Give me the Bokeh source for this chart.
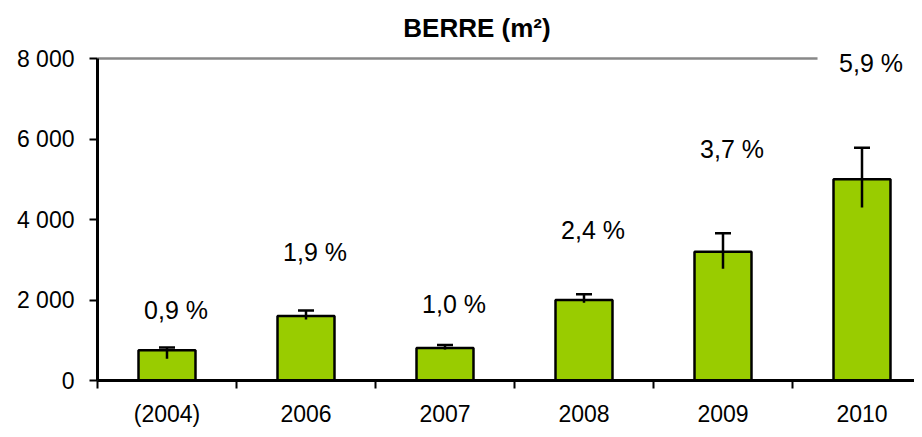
from bokeh.plotting import figure
from bokeh.models import (ColumnDataSource, Range1d, FixedTicker, Whisker, TeeHead,
                          LabelSet, Label)
from bokeh.core.properties import value
from bokeh.embed import file_html
from bokeh.resources import INLINE

categories = ["(2004)", "2006", "2007", "2008", "2009", "2010"]
surface = [750, 1600, 810, 2000, 3200, 5000]
err_high = [820, 1740, 885, 2140, 3660, 5780]
err_low = [540, 1515, 770, 1930, 2775, 4300]
pct_labels = ["0,9 %", "1,9 %", "1,0 %", "2,4 %", "3,7 %", "5,9 %"]
label_y = [1740, 3200, 1890, 3730, 5740, 7900]
y_ticks = [0, 2000, 4000, 6000, 8000]
y_tick_labels = ["0", "2 000", "4 000", "6 000", "8 000"]
title_text = "BERRE (m²)"

FONT = "Liberation Sans"
n = len(categories)
xs = [i + 0.5 for i in range(n)]
y_max = y_ticks[-1]

src = ColumnDataSource(dict(x=xs, top=surface, hi=err_high, lo=err_low,
                            lab=pct_labels, ly=label_y))

# frame: left at 97px, bottom at 380px, 139px per category, 40.25px per 1000
p = figure(width=914, height=429, output_backend="svg", toolbar_location=None,
           x_range=Range1d(0, 817 / 139), y_range=Range1d(0, 380 / 40.25 * 1000),
           min_border_left=97, min_border_right=0, min_border_top=0,
           min_border_bottom=49)
p.outline_line_color = None
p.grid.visible = False
p.background_fill_color = "white"
p.border_fill_color = "white"

# top border line at max
p.segment(x0=[0], y0=[y_max], x1=[n - 1 + 0.18], y1=[y_max],
          line_color="#888888", line_width=2.5)

p.vbar(x="x", top="top", width=0.41, bottom=0, source=src,
       fill_color="#99CC00", line_color="black", line_width=2.5)

wh = Whisker(base="x", upper="hi", lower="lo", source=src, line_width=2.5,
             line_color="black", level="annotation",
             upper_head=TeeHead(size=16, line_width=2.5, line_color="black"),
             lower_head=None)
p.add_layout(wh)

labels = LabelSet(x="x", y="ly", text="lab", source=src, x_offset=9,
                  text_align="center", text_baseline="middle",
                  text_font=value(FONT), text_font_size="25px", text_color="black")
p.add_layout(labels)

p.add_layout(Label(x=2.73, y=8770, text=title_text, text_align="center",
                   text_baseline="middle", text_font=FONT, text_font_size="26px",
                   text_font_style="bold", text_color="black"))

# y axis
ya = p.yaxis[0]
ya.ticker = FixedTicker(ticks=y_ticks, minor_ticks=[])
ya.bounds = (0, y_max)
ya.major_label_overrides = {t: l for t, l in zip(y_ticks, y_tick_labels)}
ya.axis_line_width = 3
ya.axis_line_color = "black"
ya.major_tick_line_width = 2
ya.major_tick_line_color = "black"
ya.major_tick_out = 8
ya.major_tick_in = 0
ya.major_label_standoff = 15
ya.major_label_text_font = FONT
ya.major_label_text_font_size = "23px"
ya.major_label_text_color = "black"

# x axis
xa = p.xaxis[0]
xa.ticker = FixedTicker(ticks=xs, minor_ticks=list(range(n + 1)))
xa.major_label_overrides = {x: c for x, c in zip(xs, categories)}
xa.axis_line_width = 3
xa.axis_line_color = "black"
xa.major_tick_line_color = None
xa.major_tick_out = 8
xa.major_tick_in = 0
xa.minor_tick_line_color = "black"
xa.minor_tick_line_width = 2
xa.minor_tick_out = 8
xa.minor_tick_in = 0
xa.major_label_standoff = 12
xa.major_label_text_font = FONT
xa.major_label_text_font_size = "23px"
xa.major_label_text_color = "black"

open("out.html", "w").write(file_html(p, INLINE))
